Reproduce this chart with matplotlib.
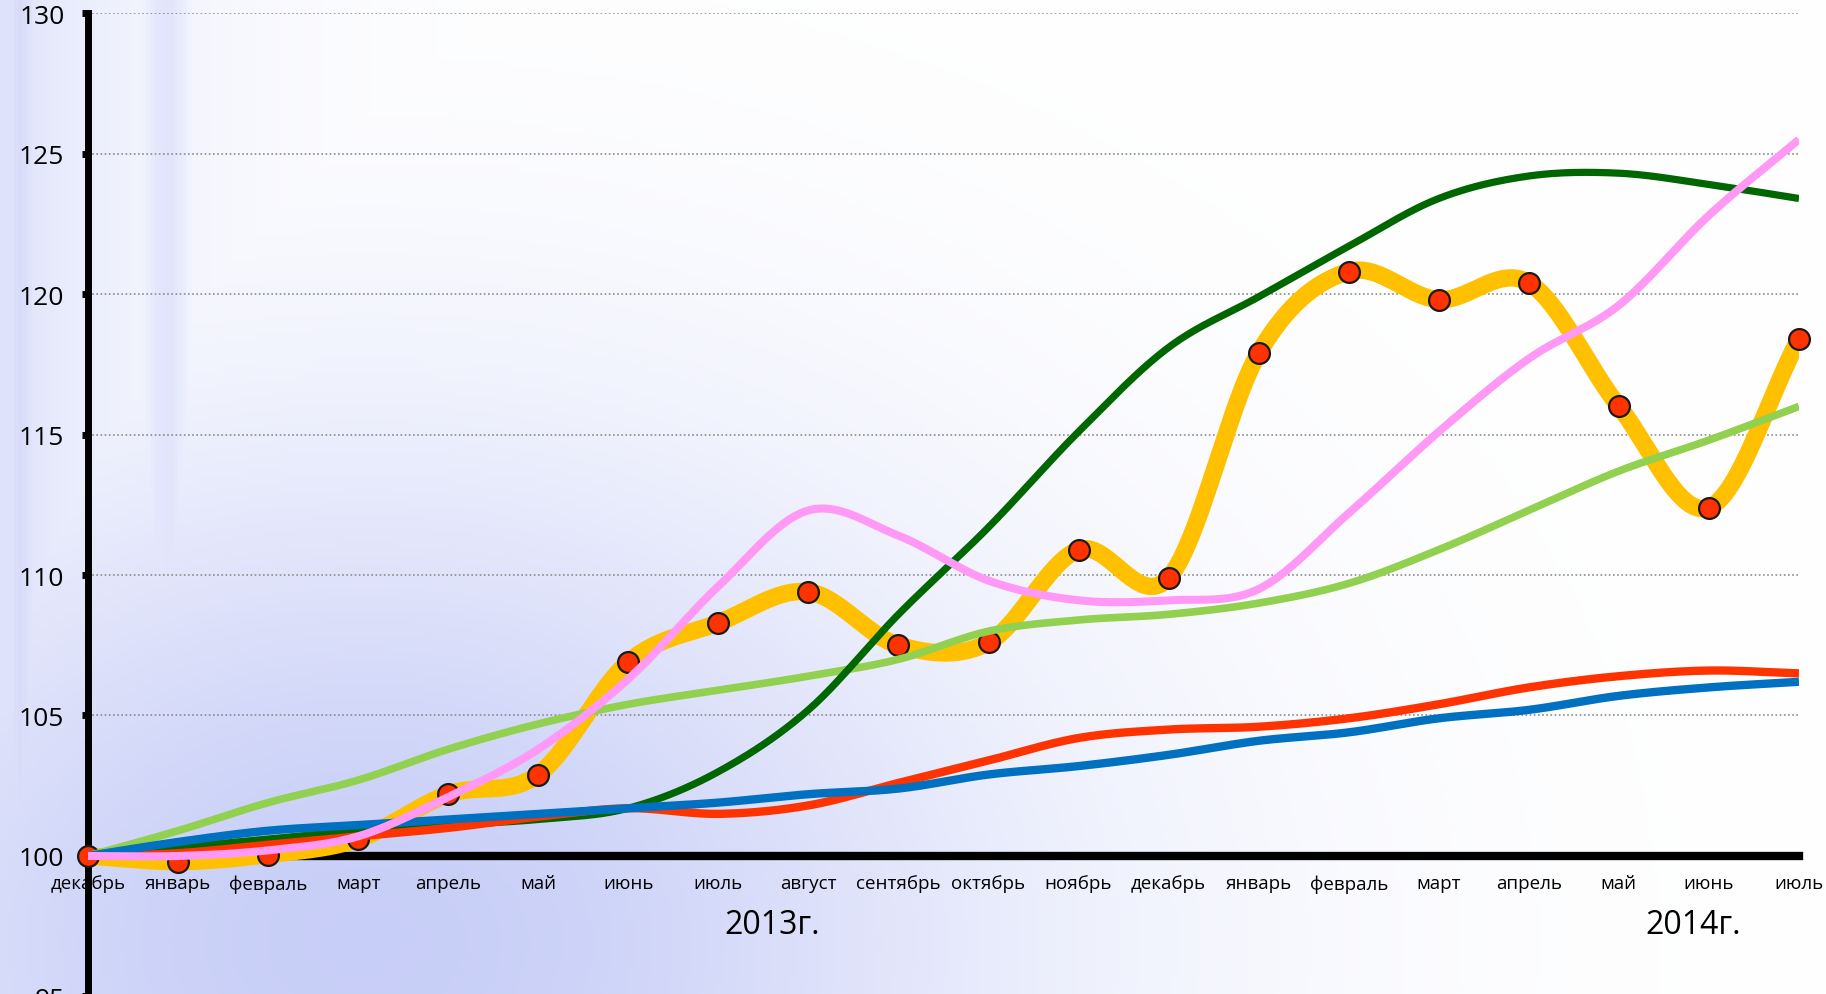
import numpy as np
import matplotlib
matplotlib.use("Agg")
import matplotlib.pyplot as plt

plt.rcParams['font.family'] = ['Open Sans', 'DejaVu Sans']

months = ['декабрь', 'январь', 'февраль', 'март', 'апрель', 'май', 'июнь',
          'июль', 'август', 'сентябрь', 'октябрь', 'ноябрь', 'декабрь',
          'январь', 'февраль', 'март', 'апрель', 'май', 'июнь', 'июль']
years = ['2013г.', '2014г.']

orange = [100.0, 99.8, 100.05, 100.6, 102.2, 102.9, 106.9, 108.3, 109.4, 107.5,
          107.6, 110.9, 109.9, 117.9, 120.8, 119.8, 120.4, 116.0, 112.4, 118.4]
dark_green = [100.0, 100.3, 100.6, 100.9, 101.1, 101.3, 101.7, 103.0, 105.2, 108.6,
              111.7, 115.1, 118.1, 119.9, 121.7, 123.4, 124.2, 124.3, 123.9, 123.4]
pink = [100.0, 100.0, 100.2, 100.7, 102.1, 103.8, 106.3, 109.6, 112.3, 111.4,
        109.8, 109.1, 109.1, 109.5, 112.2, 115.1, 117.7, 119.6, 122.8, 125.5]
light_green = [100.0, 100.9, 101.9, 102.7, 103.8, 104.7, 105.4, 105.9, 106.4, 107.0,
               108.0, 108.4, 108.6, 109.0, 109.7, 110.9, 112.3, 113.7, 114.8, 116.0]
red = [100.0, 100.1, 100.4, 100.7, 101.0, 101.4, 101.7, 101.5, 101.8, 102.6,
       103.4, 104.2, 104.5, 104.6, 104.9, 105.4, 106.0, 106.4, 106.6, 106.5]
blue = [100.0, 100.5, 100.9, 101.1, 101.3, 101.5, 101.7, 101.9, 102.2, 102.4,
        102.9, 103.2, 103.6, 104.1, 104.4, 104.9, 105.2, 105.7, 106.0, 106.2]


def smooth(y, n=24):
    # Excel-like smoothed line (Catmull-Rom through the data points)
    y = np.asarray(y, float)
    x = np.arange(len(y), dtype=float)
    m = np.gradient(y)
    xs, ys = [], []
    t = np.linspace(0, 1, n, endpoint=False)
    h00 = 2*t**3 - 3*t**2 + 1
    h10 = t**3 - 2*t**2 + t
    h01 = -2*t**3 + 3*t**2
    h11 = t**3 - t**2
    for i in range(len(y) - 1):
        xs.append(x[i] + t)
        ys.append(h00*y[i] + h10*m[i] + h01*y[i+1] + h11*m[i+1])
    xs.append([x[-1]])
    ys.append([y[-1]])
    return np.concatenate(xs), np.concatenate(ys)


def draw():
    fig = plt.figure(figsize=(18.26, 9.95), dpi=100)

    # background wash (lavender on the left / lower left, white elsewhere)
    bg = fig.add_axes([0, 0, 1, 1], zorder=-10)
    u, v = np.meshgrid(np.linspace(0, 1, 400), np.linspace(0, 1, 220))
    w = np.maximum(0.5*np.exp(-u/0.09),
                   0.85*np.exp(-(((u-0.2)/0.36)**2 + ((v-0.95)/0.5)**2)))
    w = np.maximum(w, 0.6*np.exp(-((u-0.01)/0.012)**2))
    w = np.maximum(w, 0.45*np.exp(-((u-0.09)/0.015)**2))
    w = np.clip(w, 0, 1)[..., None]
    lav = np.array([190, 198, 246]) / 255.0
    img = (1 - w) * np.array([1.0, 1.0, 1.0]) + w * lav
    bg.imshow(img, aspect='auto', extent=[0, 1, 0, 1], origin='upper')
    bg.axis('off')

    ax = fig.add_axes([0.0482, -0.0025, 0.9370, 0.9884])
    ax.patch.set_alpha(0)

    ax.set_xlim(0, len(months) - 1)
    ax.set_ylim(95, 130)

    for y in range(95, 131, 5):
        if y != 100:
            ax.axhline(y, color='#8c8c8c', lw=1.2, ls=(0, (1, 1.5)), zorder=1)

    xo, yo = smooth(orange)
    ax.plot(xo, yo, color='#FFC000', lw=12.5, solid_capstyle='butt', zorder=3)
    ax.plot(range(len(orange)), orange, 'o', ms=15, mfc='#FF3300', mec='#1a1a1a',
            mew=1.6, zorder=3.1, clip_on=False)
    for vals, col, lw in [(light_green, '#92D050', 5.5), (dark_green, '#006600', 5.2),
                          (red, '#FF3300', 6), (blue, '#0070C0', 6),
                          (pink, '#FF99F5', 5.8)]:
        xs, ys = smooth(vals)
        ax.plot(xs, ys, color=col, lw=lw, solid_capstyle='butt', zorder=4)

    for s in ['top', 'right']:
        ax.spines[s].set_visible(False)
    ax.spines['left'].set_linewidth(5)
    ax.spines['bottom'].set_position(('data', 100))
    ax.spines['bottom'].set_linewidth(6)

    ax.set_yticks(range(95, 131, 5))
    ax.tick_params(axis='y', direction='out', length=4, width=5, pad=13,
                   labelsize=19)
    ax.set_xticks(range(len(months)))
    ax.set_xticklabels(months)
    ax.tick_params(axis='x', direction='out', length=3, width=4, pad=10,
                   labelsize=13.5)

    ax.text(7.6, 97.55, years[0], fontsize=23, ha='center', va='center')
    ax.text(17.83, 97.55, years[1], fontsize=23, ha='center', va='center')

    fig.savefig('out.png', dpi=100)


if __name__ == "__main__":
    draw()
